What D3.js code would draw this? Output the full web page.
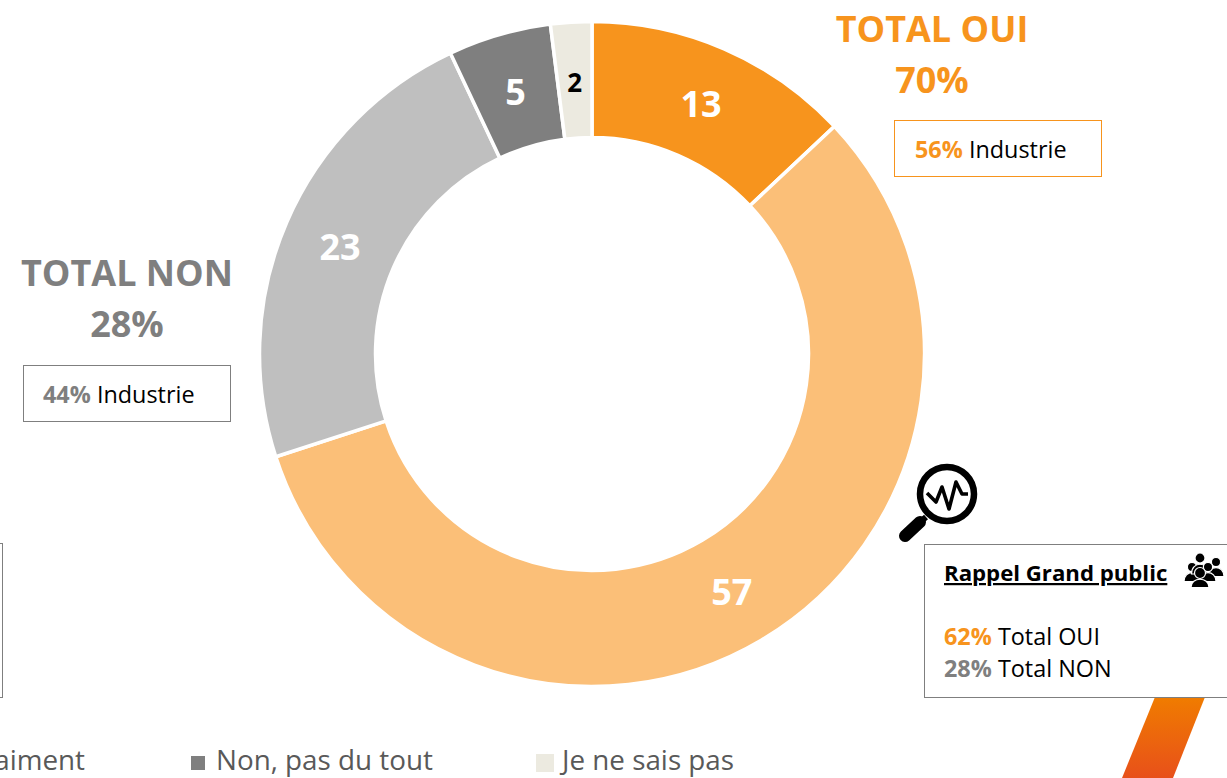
<!DOCTYPE html>
<html><head><meta charset="utf-8">
<script src="https://cdn.jsdelivr.net/npm/d3@7"></script>
<style>html,body{margin:0;padding:0;background:#fff;overflow:hidden}svg{display:block}text{font-family:"Open Sans",sans-serif}</style>
</head><body><svg id="c" width="1227" height="778"></svg>
<script>
const categories = ["Oui, tout à fait","Oui, plutôt","Non, pas vraiment","Non, pas du tout","Je ne sais pas"];
const values = [13,57,23,5,2];
const colors = ["#F7941D","#FBBF78","#BFBFBF","#7F7F7F","#ECEAE0"];
const labelColors = ["#fff","#fff","#fff","#fff","#000"];
const labelSizes = [36,36,36,36,26];
const legendShown = [2,3,4];
const legendX = {2:85,3:216,4:562};

const svg = d3.select("#c");
const cx=592, cy=354, R=332.5, r=216.5;
const defs = svg.append("defs");
const g = defs.append("linearGradient").attr("id","sl").attr("x1",0).attr("y1",0).attr("x2",0).attr("y2",1);
g.append("stop").attr("offset",0).attr("stop-color","#F07C00");
g.append("stop").attr("offset",1).attr("stop-color","#E8501A");
svg.append("path").attr("d","M1155,697L1205,697L1173,778L1122,778Z").attr("fill","url(#sl)");

const pie = d3.pie().sort(null).value(d=>d);
const arc = d3.arc().innerRadius(r).outerRadius(R);
const lab = d3.arc().innerRadius((r+R)/2).outerRadius((r+R)/2);
const gc = svg.append("g").attr("transform",`translate(${cx},${cy})`);
const arcs = pie(values);
gc.selectAll("path").data(arcs).join("path").attr("d",arc)
  .attr("fill",(d,i)=>colors[i]).attr("stroke","#fff").attr("stroke-width",3.5);
gc.selectAll("text").data(arcs).join("text")
  .attr("x",d=>lab.centroid(d)[0]).attr("y",d=>lab.centroid(d)[1]+1.5)
  .attr("text-anchor","middle").attr("dominant-baseline","central")
  .attr("font-weight",700).attr("font-size",(d,i)=>labelSizes[i]).attr("fill",(d,i)=>labelColors[i])
  .text(d=>d.value);

function t(x,y,s,size,fill,weight,anchor){return svg.append("text").attr("x",x).attr("y",y).attr("font-size",size).attr("fill",fill).attr("font-weight",weight||400).attr("text-anchor",anchor||"start").text(s);}
t(932,42,"TOTAL OUI",36,"#F7941D",700,"middle");
t(932,93,"70%",36,"#F7941D",700,"middle");
t(127,286,"TOTAL NON",36,"#7F7F7F",700,"middle");
t(127,337,"28%",36,"#7F7F7F",700,"middle");

function box(x,y,w,h,stroke){svg.append("rect").attr("x",x+.5).attr("y",y+.5).attr("width",w).attr("height",h).attr("fill","#fff").attr("stroke",stroke);}
box(894,120,207,56,"#F7941D");
box(23,365,207,56,"#7F7F7F");
box(-20,543,22,154,"#7F7F7F");
box(924,544,320,153,"#7F7F7F");

function rich(x,y,pct,col,rest,size){const e=svg.append("text").attr("x",x).attr("y",y).attr("font-size",size);
 e.append("tspan").attr("fill",col).attr("font-weight",700).text(pct);
 e.append("tspan").attr("fill","#000").text(" "+rest);}
rich(915,158,"56%","#F7941D","Industrie",23.4);
rich(43,403,"44%","#7F7F7F","Industrie",23.4);
rich(944,645,"62%","#F7941D","Total OUI",23.4);
rich(944,677,"28%","#7F7F7F","Total NON",23.4);
t(944,581,"Rappel Grand public",22.2,"#000",700).attr("text-decoration","underline");

// legend
legendShown.forEach(i=>{
  const x=legendX[i];
  if(i===2){t(x,770,categories[i],27.8,"#595959",400,"end");return;}
  const big = i===4;
  const bs = big?18:14;
  svg.append("rect").attr("x",x-(big?26:25)).attr("y",big?754:756).attr("width",bs).attr("height",bs).attr("fill",colors[i]);
  t(x,770,categories[i],27.8,"#595959");
});

// magnifier icon
const m=svg.append("g");
m.append("path").attr("d","M926,517L917,525").attr("stroke","#000").attr("stroke-width",6);
m.append("path").attr("d","M920,522L905,536").attr("stroke","#000").attr("stroke-width",12).attr("stroke-linecap","round");
m.append("circle").attr("cx",947).attr("cy",494).attr("r",27).attr("fill","#fff").attr("stroke","#000").attr("stroke-width",6.5);
m.append("path").attr("d","M927,493L936,502L942,487L949,509L956,482L962,494L968,494").attr("fill","none").attr("stroke","#000").attr("stroke-width",3.6).attr("stroke-linejoin","round");

// people icon
const p=svg.append("g").attr("fill","#000").attr("stroke","#fff").attr("stroke-width",1.2);
function person(x,y,hr,bw,bh){
  p.append("path").attr("d",`M${x-bw},${y+hr+bh}C${x-bw},${y+hr-2} ${x+bw},${y+hr-2} ${x+bw},${y+hr+bh}Z`);
  p.append("circle").attr("cx",x).attr("cy",y).attr("r",hr);
}
person(1216,562,4.6,8,10);person(1192,567,4.6,8,10);person(1200,558,5,8.5,11);person(1208,567,4.6,8,10);person(1200,573,5.5,9,9);
</script></body></html>
